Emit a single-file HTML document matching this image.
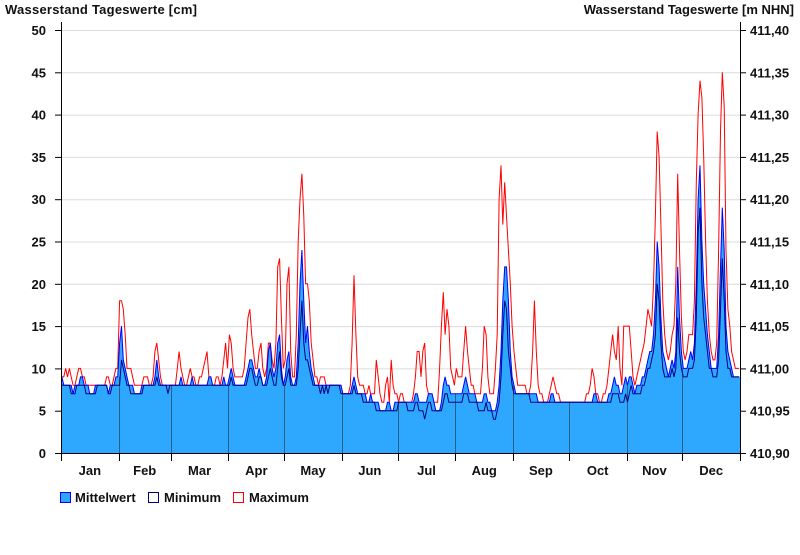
<!DOCTYPE html>
<html><head><meta charset="utf-8"><style>
body{margin:0;background:#fff;width:800px;height:550px;overflow:hidden;font-family:"Liberation Sans",Arial,sans-serif}
svg text{font-family:"Liberation Sans",Arial,sans-serif;font-weight:bold;font-size:13px;fill:#111}
</style></head><body>
<svg id="chart" width="800" height="550" xmlns="http://www.w3.org/2000/svg">
<text x="5" y="14" textLength="192">Wasserstand Tageswerte [cm]</text>
<text x="794" y="14" text-anchor="end">Wasserstand Tageswerte [m NHN]</text>
<g id="grid"></g>
<g id="marks"></g>
<g id="axes"></g>
<g>
<rect x="60.5" y="492.5" width="10" height="10" fill="#2ea8ff" stroke="#0000ff"/>
<text x="75" y="502">Mittelwert</text>
<rect x="148.5" y="492.5" width="10" height="10" fill="#fff" stroke="#000080"/>
<text x="164" y="502">Minimum</text>
<rect x="233.5" y="492.5" width="10" height="10" fill="#fff" stroke="#ff0000"/>
<text x="249" y="502">Maximum</text>
</g>
</svg>
<script>
const months=["Jan","Feb","Mar","Apr","May","Jun","Jul","Aug","Sep","Oct","Nov","Dec"];
const monthDays=[31,28,31,30,31,30,31,31,30,31,30,31];
const leftTicks=[0,5,10,15,20,25,30,35,40,45,50];
const rightTicks=["410,90","410,95","411,00","411,05","411,10","411,15","411,20","411,25","411,30","411,35","411,40"];
const meanVals=[
9,8,8,8,8,8,7,8,8,8,9,9,8,8,8,7,7,7,8,8,8,8,8,8,8,7,8,8,8,9,9,
13,15,11,10,9,8,8,8,7,7,7,7,8,8,8,8,8,8,8,9,11,9,8,8,8,8,8,8,
8,8,8,8,8,9,8,8,8,8,8,9,8,8,8,8,8,8,8,8,9,9,8,8,8,8,8,8,9,8,8,
9,10,9,8,8,8,8,8,8,9,10,11,11,10,9,9,10,9,8,8,9,12,13,10,9,10,13,14,10,8,
9,11,12,9,8,8,9,13,20,24,18,13,15,12,10,9,8,8,8,8,8,8,8,8,8,8,8,8,8,8,8,
7,7,7,7,7,8,9,8,7,7,7,7,7,6,6,7,6,6,6,6,5,5,5,5,6,6,5,5,6,6,
6,6,6,6,6,6,6,6,6,7,7,6,6,6,6,6,7,7,7,6,5,5,5,6,8,9,8,8,7,7,7,
7,7,7,7,8,9,8,7,7,7,7,6,6,6,6,7,7,6,6,5,5,5,6,8,12,18,22,22,18,12,9,
8,7,7,7,7,7,7,7,7,7,7,7,7,6,6,6,6,6,6,6,7,7,6,6,6,6,6,6,6,6,
6,6,6,6,6,6,6,6,6,6,6,6,6,7,7,6,6,6,6,6,6,7,7,8,9,8,8,7,7,8,9,
8,9,9,8,7,8,8,8,9,9,10,11,12,12,14,18,25,22,16,12,11,10,9,10,11,10,12,22,16,12,
10,10,10,11,12,11,13,20,30,34,25,20,17,14,12,10,10,10,10,14,22,29,24,15,12,11,10,9,9,9,9];
const minVals=[
8,8,8,8,8,7,7,7,8,8,8,8,8,7,7,7,7,7,7,8,8,8,8,8,8,7,7,8,8,8,8,
8,11,10,9,8,8,7,7,7,7,7,7,7,8,8,8,8,8,8,8,9,8,8,8,8,8,7,8,
8,8,8,8,8,8,8,8,8,8,8,8,8,8,8,8,8,8,8,8,8,8,8,8,8,8,8,8,8,8,8,
8,9,8,8,8,8,8,8,8,8,9,10,10,9,8,8,9,9,8,8,8,9,10,9,8,8,10,12,9,8,
8,9,10,8,8,8,8,10,14,18,13,11,11,10,9,8,8,8,8,7,8,7,8,7,8,8,8,8,8,8,7,
7,7,7,7,7,7,8,7,7,7,7,6,6,6,6,6,6,6,5,5,5,5,5,5,5,5,5,5,5,5,
6,6,6,6,6,5,5,5,5,6,6,5,5,5,4,5,6,6,5,5,5,5,5,5,6,7,7,6,6,6,6,
6,6,6,6,7,7,7,6,6,6,6,6,5,5,5,5,6,5,5,5,4,4,5,6,9,14,18,17,12,10,8,
7,7,7,7,7,7,7,7,7,6,6,6,6,6,6,6,6,6,6,6,6,6,6,6,6,6,6,6,6,6,
6,6,6,6,6,6,6,6,6,6,6,6,6,6,6,6,6,6,6,6,6,6,6,7,7,7,7,6,6,6,7,
6,7,8,7,7,7,7,7,8,8,9,10,10,11,12,14,20,18,13,10,9,9,9,9,10,9,10,16,12,10,
9,9,9,10,10,10,11,16,26,29,20,16,14,12,10,10,9,9,9,11,17,23,18,12,10,10,9,9,9,9,9];
const maxVals=[
9,9,10,9,10,9,8,8,9,10,10,9,9,8,8,8,8,8,8,8,8,8,8,8,9,9,8,8,9,10,10,
18,18,17,14,10,10,10,9,8,8,8,8,8,9,9,9,8,8,9,12,13,11,9,8,8,8,8,8,
8,8,8,10,12,10,9,8,8,9,10,9,9,8,8,9,9,10,11,12,9,9,8,8,9,9,8,9,11,13,10,
14,13,10,9,9,9,9,9,10,13,16,17,14,12,10,10,12,13,10,9,10,13,13,11,10,13,22,23,16,10,
11,20,22,12,9,9,14,25,30,33,28,20,20,18,13,11,9,9,8,9,9,9,8,8,8,8,8,8,8,8,8,
7,7,7,7,8,13,21,14,9,8,8,8,7,7,8,7,7,7,11,9,7,6,6,8,9,6,11,8,7,7,
6,7,7,6,6,6,6,6,7,9,12,12,9,12,13,8,7,7,6,6,6,6,10,15,19,14,17,15,10,9,8,
10,9,9,9,12,15,12,10,8,8,7,7,7,7,10,15,14,9,7,7,7,10,14,30,34,27,32,28,24,20,15,
12,10,8,8,8,8,8,7,7,8,12,18,12,8,7,7,6,6,6,7,8,9,8,7,7,6,6,6,6,6,
6,6,6,6,6,6,6,6,6,7,7,8,10,9,7,7,6,6,7,7,8,10,12,14,12,11,15,10,8,15,15,
15,15,12,9,8,9,10,11,12,13,15,17,16,15,20,28,38,35,27,18,14,12,11,12,14,15,20,33,24,16,
12,11,12,14,14,14,18,32,40,44,42,35,25,18,14,12,11,11,13,24,38,45,41,24,17,15,12,11,10,10,10];

const NS="http://www.w3.org/2000/svg";
const X0=61,X1=740,Y0=453,Y1=30,VMAX=50,NDAYS=365;
const xs=i=>X0+(i+0.5)*(X1-X0)/NDAYS;
const xd=d=>X0+d*(X1-X0)/NDAYS;
const ys=v=>Y0-v*(Y0-Y1)/VMAX;
function mk(tag,attrs,parent){const e=document.createElementNS(NS,tag);for(const k in attrs)e.setAttribute(k,attrs[k]);parent.appendChild(e);return e;}
const grid=document.getElementById('grid'),marks=document.getElementById('marks'),axes=document.getElementById('axes');
leftTicks.forEach((t,i)=>{
  if(t>0){const g=mk('line',{x1:X0,x2:X1,y1:ys(t)+0.5,y2:ys(t)+0.5,stroke:'#dcdcdc'},grid);
  
  }
  const tk=mk('line',{x1:X0-6,x2:X0,y1:ys(t)+0.5,y2:ys(t)+0.5,stroke:'#000'},axes);
  
  
  const lt=mk('text',{x:X0-15,y:ys(t)+5,'text-anchor':'end'},axes);lt.textContent=t;
  
  
  const rk=mk('line',{x1:X1,x2:X1+6,y1:ys(t)+0.5,y2:ys(t)+0.5,stroke:'#000'},axes);
  
  
  const rt=mk('text',{x:X1+10,y:ys(t)+5},axes);rt.textContent=rightTicks[i];
  
  
});
function pts(arr){return arr.map((v,i)=>xs(i).toFixed(1)+','+ys(v).toFixed(1)).join(' ');}
const mx=mk('polyline',{points:pts(maxVals),fill:'none',stroke:'#ff0000','stroke-width':1},marks);


const area=mk('polygon',{points:X0+','+Y0+' '+xs(0)+','+ys(meanVals[0])+' '+pts(meanVals)+' '+X1+','+ys(meanVals[NDAYS-1])+' '+X1+','+Y0,fill:'#2ea8ff',stroke:'none'},marks);


let d=0;
months.forEach((m,i)=>{
  const xa=xd(d),xb=xd(d+monthDays[i]);
  if(i>0){const top=ys(Math.min(meanVals[d],meanVals[d-1]));
  const v=mk('line',{x1:Math.round(xa)+0.5,x2:Math.round(xa)+0.5,y1:top,y2:Y0,stroke:'#2a6085','stroke-width':1},marks);
  
  }
  const t=mk('line',{x1:Math.round(xa)+0.5,x2:Math.round(xa)+0.5,y1:Y0,y2:Y0+8,stroke:'#000'},axes);
  
  
  const l=mk('text',{x:(xa+xb)/2,y:Y0+22,'text-anchor':'middle'},axes);l.textContent=m;
  
  
  d+=monthDays[i];
});
const ml=mk('polyline',{points:pts(meanVals),fill:'none',stroke:'#0000ff','stroke-width':1},marks);


const mn=mk('polyline',{points:pts(minVals),fill:'none',stroke:'#000080','stroke-width':1},marks);


const la=mk('line',{x1:X0+0.5,x2:X0+0.5,y1:22,y2:Y0+8,stroke:'#000'},axes);


const ra=mk('line',{x1:X1+0.5,x2:X1+0.5,y1:22,y2:Y0+8,stroke:'#000'},axes);


const ba=mk('line',{x1:X0,x2:X1+1,y1:Y0+0.5,y2:Y0+0.5,stroke:'#000'},axes);


</script>
</body></html>
